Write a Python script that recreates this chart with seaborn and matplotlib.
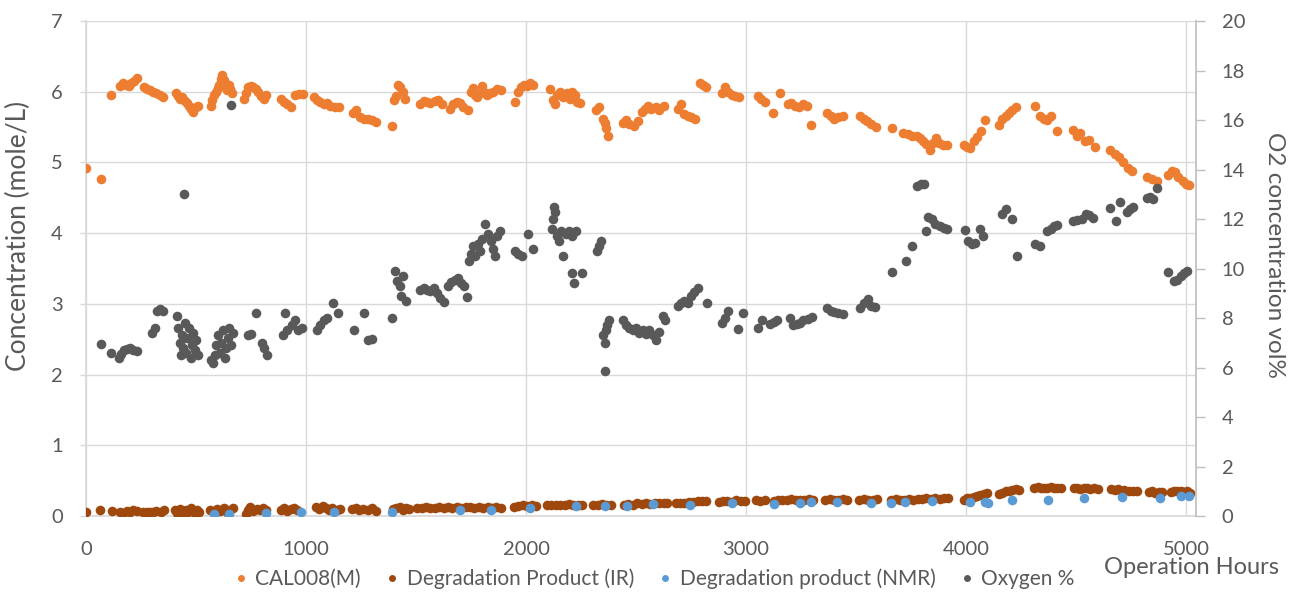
import matplotlib
matplotlib.use("Agg")
import matplotlib.pyplot as plt
import seaborn as sns
import pandas as pd
from matplotlib.lines import Line2D

# ---- CAL008 concentration (mole/L) vs operation hours ----
cal_hours = [0, 68, 114, 155, 168, 180, 195, 205, 218, 232, 262, 276, 290, 305, 320, 335, 350,
             408, 418, 428, 438, 448, 458, 468, 478, 488, 498, 508,
             566, 574, 582, 590, 598, 606, 614, 620, 626, 632, 640, 648, 656, 664,
             720, 728, 736, 748, 760, 772, 784, 796, 808, 820,
             885, 900, 915, 930, 952, 970, 985,
             1035, 1050, 1065, 1080, 1095, 1110, 1130, 1150,
             1212, 1225, 1245, 1262, 1280, 1300, 1318,
             1390, 1400, 1408, 1418, 1428, 1440, 1450,
             1518, 1535, 1550, 1565, 1585, 1600, 1620,
             1655, 1670, 1685, 1700, 1715, 1735,
             1748, 1758, 1768, 1778, 1790, 1800, 1810, 1822, 1835, 1850, 1870, 1885,
             1950, 1962, 1975, 1990, 2005, 2020, 2032,
             2110, 2122, 2130, 2140, 2155, 2170, 2185, 2198, 2210, 2222, 2232, 2245,
             2320, 2330, 2350, 2358, 2365, 2372,
             2440, 2455, 2470, 2490, 2510, 2525, 2540, 2555, 2570, 2590, 2605, 2625,
             2690, 2705, 2720, 2735, 2750, 2770, 2790, 2805, 2820,
             2890, 2905, 2920, 2935, 2950, 2970,
             3055, 3070, 3085, 3123, 3155, 3190, 3205, 3222, 3240, 3260, 3278, 3295,
             3368, 3385, 3400, 3420, 3440,
             3520, 3535, 3550, 3570, 3590, 3664,
             3715, 3735, 3755, 3775, 3790, 3805, 3820, 3835, 3850, 3862, 3875, 3895, 3915,
             3990, 4003, 4018, 4035, 4050, 4068, 4086,
             4150, 4165, 4180, 4195, 4210, 4225,
             4314, 4338, 4352, 4368, 4385, 4413,
             4488, 4505, 4520, 4540, 4560, 4585,
             4655, 4675, 4695, 4715, 4735, 4755,
             4823, 4845, 4870, 4918, 4935, 4950, 4965, 4985, 5000, 5015]
cal_values = [4.92, 4.77, 5.96, 6.08, 6.12, 6.10, 6.08, 6.13, 6.15, 6.20, 6.06, 6.04, 6.02, 6.00, 5.98, 5.95, 5.92,
              5.98, 5.94, 5.90, 5.92, 5.87, 5.84, 5.80, 5.75, 5.71, 5.78, 5.80,
              5.80, 5.88, 5.95, 6.00, 6.05, 6.10, 6.18, 6.24, 6.16, 6.08, 6.02, 6.10, 6.04, 5.98,
              5.90, 5.98, 6.06, 6.08, 6.07, 6.04, 6.00, 5.94, 5.90, 5.95,
              5.90, 5.86, 5.82, 5.79, 5.96, 5.97, 5.97,
              5.92, 5.88, 5.85, 5.82, 5.84, 5.80, 5.78, 5.78,
              5.70, 5.74, 5.64, 5.61, 5.62, 5.60, 5.57,
              5.52, 5.88, 5.94, 6.10, 6.06, 6.00, 5.90,
              5.82, 5.87, 5.86, 5.84, 5.87, 5.88, 5.82,
              5.76, 5.82, 5.86, 5.84, 5.78, 5.74,
              5.99, 6.05, 5.95, 5.92, 5.98, 6.08, 6.00, 5.95, 5.98, 6.00, 6.04, 6.02,
              5.86, 6.00, 6.06, 6.10, 6.08, 6.13, 6.10,
              6.04, 5.88, 5.82, 5.95, 6.00, 5.92, 5.98, 5.90, 6.00, 5.95, 5.86, 5.84,
              5.74, 5.78, 5.62, 5.56, 5.48, 5.38,
              5.56, 5.60, 5.55, 5.52, 5.58, 5.72, 5.76, 5.80, 5.76, 5.78, 5.74, 5.80,
              5.76, 5.82, 5.68, 5.66, 5.64, 5.62, 6.12, 6.10, 6.06,
              5.98, 6.06, 6.00, 5.96, 5.94, 5.92,
              5.94, 5.90, 5.86, 5.70, 5.98, 5.82, 5.84, 5.80, 5.78, 5.82, 5.80, 5.53,
              5.70, 5.66, 5.62, 5.64, 5.66,
              5.66, 5.62, 5.58, 5.54, 5.50, 5.48,
              5.42, 5.40, 5.38, 5.37, 5.34, 5.30, 5.26, 5.18, 5.28, 5.34, 5.28, 5.25, 5.24,
              5.24, 5.22, 5.20, 5.30, 5.36, 5.44, 5.60,
              5.53, 5.62, 5.66, 5.70, 5.74, 5.78,
              5.80, 5.66, 5.62, 5.60, 5.66, 5.44,
              5.46, 5.38, 5.42, 5.30, 5.32, 5.22,
              5.18, 5.12, 5.08, 5.00, 4.92, 4.88,
              4.80, 4.77, 4.74, 4.82, 4.88, 4.86, 4.80, 4.74, 4.70, 4.68]

# ---- Degradation product measured by IR (mole/L) ----
ir_hours = [0, 64, 118, 155, 170, 185, 200, 215, 230, 260, 275, 290, 305, 320, 340, 355,
            405, 415, 425, 435, 445, 455, 465, 475, 485, 495, 505, 515,
            565, 580, 595, 610, 625, 640, 655, 668,
            725, 735, 745, 760, 775, 790, 805, 820,
            885, 900, 915, 930, 945, 960,
            1045, 1060, 1075, 1090, 1105, 1120, 1140, 1155,
            1210, 1225, 1240, 1260, 1280, 1300, 1320,
            1395, 1410, 1425, 1440, 1455, 1470,
            1505, 1525, 1545, 1565, 1585, 1605, 1625, 1645, 1665, 1685, 1705, 1725, 1745,
            1765, 1785, 1805, 1825, 1845, 1865, 1885,
            1945, 1965, 1985, 2005, 2025, 2045,
            2095, 2115, 2135, 2155, 2175, 2195, 2215, 2235, 2255,
            2305, 2325, 2345, 2365, 2385,
            2445, 2465, 2485, 2505, 2525, 2545, 2565, 2585, 2605, 2625, 2640,
            2680, 2700, 2720, 2740, 2760, 2780, 2800, 2820,
            2875, 2895, 2915, 2935, 2955, 2975, 2995,
            3045, 3065, 3085, 3125, 3145, 3165, 3185, 3205, 3225, 3245, 3265, 3285, 3305,
            3360, 3380, 3400, 3420, 3440, 3460,
            3515, 3535, 3555, 3575, 3595,
            3660, 3680, 3700, 3720, 3740, 3760, 3780, 3800, 3820, 3840, 3860, 3880, 3900, 3920,
            3990, 4005, 4020, 4035, 4050, 4065, 4080, 4095,
            4150, 4165, 4180, 4195, 4210, 4225, 4240,
            4310, 4325, 4340, 4355, 4370, 4385, 4400, 4415, 4430,
            4490, 4505, 4520, 4535, 4550, 4565, 4580, 4600,
            4660, 4675, 4690, 4705, 4720, 4740, 4760, 4775,
            4830, 4845, 4860, 4875, 4890,
            4930, 4945, 4960, 4975, 4990, 5005, 5020]
ir_values = [0.05, 0.08, 0.07, 0.05, 0.04, 0.07, 0.06, 0.08, 0.07, 0.06, 0.05, 0.05, 0.06, 0.07, 0.06, 0.08,
             0.08, 0.04, 0.10, 0.06, 0.03, 0.09, 0.05, 0.11, 0.07, 0.04, 0.09, 0.06,
             0.09, 0.05, 0.10, 0.07, 0.11, 0.06, 0.09, 0.12,
             0.03, 0.09, 0.13, 0.07, 0.10, 0.08, 0.12, 0.09,
             0.08, 0.11, 0.07, 0.10, 0.12, 0.09,
             0.13, 0.10, 0.14, 0.11, 0.09, 0.12, 0.08, 0.10,
             0.10, 0.11, 0.09, 0.10, 0.08, 0.11, 0.07,
             0.10, 0.12, 0.13, 0.09, 0.12, 0.10,
             0.12, 0.12, 0.13, 0.12, 0.12, 0.13, 0.12, 0.13, 0.12, 0.13, 0.12, 0.13, 0.13,
             0.12, 0.13, 0.12, 0.13, 0.12, 0.13, 0.12,
             0.13, 0.14, 0.15, 0.14, 0.15, 0.14,
             0.15, 0.16, 0.15, 0.16, 0.15, 0.17, 0.16, 0.15, 0.16,
             0.16, 0.15, 0.17, 0.16, 0.15,
             0.16, 0.17, 0.16, 0.18, 0.17, 0.18, 0.17, 0.18, 0.19, 0.18, 0.19,
             0.18, 0.19, 0.18, 0.20, 0.20, 0.21, 0.21, 0.21,
             0.20, 0.21, 0.21, 0.20, 0.22, 0.21, 0.21,
             0.22, 0.21, 0.22, 0.21, 0.23, 0.22, 0.23, 0.24, 0.23, 0.22, 0.23, 0.24, 0.23,
             0.23, 0.24, 0.22, 0.23, 0.24, 0.23,
             0.23, 0.24, 0.22, 0.23, 0.24,
             0.23, 0.24, 0.22, 0.23, 0.24, 0.23, 0.24, 0.24, 0.25, 0.24, 0.25, 0.24, 0.25, 0.26,
             0.23, 0.25, 0.26, 0.27, 0.28, 0.29, 0.31, 0.32,
             0.31, 0.33, 0.35, 0.36, 0.37, 0.38, 0.37,
             0.40, 0.41, 0.40, 0.39, 0.40, 0.41, 0.40, 0.39, 0.40,
             0.39, 0.40, 0.38, 0.39, 0.40, 0.38, 0.39, 0.38,
             0.38, 0.37, 0.38, 0.36, 0.37, 0.36, 0.35, 0.36,
             0.34, 0.35, 0.33, 0.34, 0.34,
             0.34, 0.35, 0.36, 0.35, 0.34, 0.35, 0.33]

# ---- Degradation product measured by NMR (mole/L) ----
nmr_hours = [582, 650, 818, 977, 1127, 1391, 1700, 1841, 2018, 2227, 2359, 2459, 2577, 2745,
             2936, 3127, 3245, 3295, 3414, 3568, 3659, 3723, 3845, 4018, 4086, 4100, 4209,
             4373, 4536, 4709, 4882, 4977, 5014]
nmr_values = [0.03, 0.03, 0.04, 0.05, 0.06, 0.05, 0.08, 0.08, 0.12, 0.14, 0.14, 0.14, 0.17, 0.16,
              0.19, 0.17, 0.19, 0.20, 0.20, 0.18, 0.18, 0.20, 0.21, 0.20, 0.20, 0.19, 0.23,
              0.23, 0.25, 0.27, 0.25, 0.28, 0.28]

# ---- Oxygen concentration (vol%) ----
o2_hours = [68, 114, 150, 160, 172, 185, 200, 215, 230, 300, 312, 322, 335, 350,
            445, 414, 420, 425, 430, 436, 442, 448, 455, 460, 468, 475, 480, 488, 495, 502, 510,
            566, 575, 585, 592, 600, 608, 615, 622, 630, 638, 645, 652, 660, 659, 668,
            735, 750, 773, 800, 810, 822,
            895, 905, 915, 935, 950, 965, 980,
            1050, 1065, 1080, 1095, 1123, 1145, 1218, 1264, 1282, 1300,
            1391, 1405, 1415, 1428, 1441, 1430, 1455,
            1520, 1535, 1550, 1565, 1580, 1595, 1610, 1625,
            1645, 1660, 1675, 1690, 1705, 1720, 1732,
            1740, 1750, 1760, 1770, 1780, 1790, 1800, 1814, 1825, 1840, 1850, 1859, 1870, 1880,
            1950, 1965, 1980, 2009, 2032,
            2118, 2123, 2125, 2130, 2140, 2150, 2160, 2168, 2180, 2195, 2210, 2225, 2209, 2220, 2255,
            2323, 2332, 2342, 2359, 2352, 2357, 2362, 2368, 2375,
            2441, 2455, 2470, 2485, 2500, 2515, 2530, 2545, 2560, 2575, 2590, 2605, 2623, 2630,
            2691, 2705, 2720, 2735, 2750, 2765, 2780, 2823,
            2891, 2905, 2920, 2964, 2986,
            3055, 3072, 3110, 3125, 3141, 3200, 3214, 3230, 3245, 3260, 3280, 3300,
            3368, 3385, 3400, 3420, 3440, 3518, 3535, 3555, 3570, 3586,
            3664, 3727, 3755, 3778, 3795, 3808, 3818, 3827, 3845, 3860, 3880, 3900, 3914,
            3995, 4010, 4025, 4040, 4064, 4078, 4164, 4180, 4209, 4232,
            4314, 4335, 4368, 4385, 4400, 4414,
            4486, 4505, 4525, 4545, 4560, 4577,
            4655, 4682, 4700, 4732, 4745, 4759, 4823, 4838, 4850, 4868,
            4918, 4945, 4960, 4975, 4990, 5005]
o2_values = [6.95, 6.6, 6.4, 6.55, 6.7, 6.75, 6.8, 6.7, 6.65, 7.4, 7.6, 8.3, 8.35, 8.3,
             13.0, 8.1, 7.6, 7.0, 6.5, 7.3, 6.8, 7.8, 6.6, 7.2, 7.6, 6.4, 6.9, 7.4, 6.7, 7.1, 6.5,
             6.3, 6.2, 6.5, 6.9, 7.3, 6.6, 7.0, 7.5, 6.4, 6.8, 7.2, 7.6, 6.9, 16.6, 7.4,
             7.3, 7.35, 8.2, 7.0, 6.8, 6.5,
             7.3, 8.2, 7.5, 7.7, 7.9, 7.5, 7.6,
             7.5, 7.7, 7.9, 8.0, 8.6, 8.2, 7.5, 8.2, 7.1, 7.15,
             8.0, 9.9, 9.5, 9.3, 9.7, 8.9, 8.7,
             9.15, 9.2, 9.15, 9.1, 9.2, 9.0, 8.8, 8.65,
             9.3, 9.45, 9.55, 9.6, 9.4, 9.3, 8.85,
             10.3, 10.6, 10.9, 10.5, 11.0, 10.7, 11.2, 11.8, 11.4, 11.1, 10.8, 10.5, 11.3, 11.5,
             10.7, 10.6, 10.5, 11.4, 10.8,
             11.6, 12.0, 12.5, 12.3, 11.3, 11.1, 11.5, 10.5, 11.4, 11.5, 11.3, 11.5, 9.8, 9.4, 9.8,
             10.7, 10.9, 11.1, 5.85, 7.3, 7.0, 7.5, 7.7, 7.9,
             7.9, 7.7, 7.6, 7.5, 7.6, 7.4, 7.5, 7.35, 7.5, 7.3, 7.1, 7.45, 8.1, 7.9,
             8.5, 8.6, 8.7, 8.6, 8.9, 9.05, 9.2, 8.6,
             7.8, 8.0, 8.3, 7.55, 8.2,
             7.6, 7.9, 7.75, 7.85, 7.9, 8.0, 7.7, 7.75, 7.8, 7.9, 7.95, 8.05,
             8.4, 8.3, 8.25, 8.2, 8.15, 8.4, 8.6, 8.75, 8.5, 8.45,
             9.85, 10.3, 10.9, 13.35, 13.4, 13.4, 11.5, 12.1, 12.0, 11.8, 11.7, 11.65, 11.6,
             11.55, 11.1, 11.0, 11.05, 11.6, 11.3, 12.2, 12.4, 12.0, 10.5,
             11.0, 10.9, 11.5, 11.6, 11.7, 11.75,
             11.9, 11.95, 12.0, 12.2, 12.15, 12.05,
             12.45, 11.9, 12.7, 12.3, 12.4, 12.5, 12.85, 12.9, 12.8, 13.25,
             9.85, 9.5, 9.55, 9.7, 9.8, 9.9]

labels = ["CAL008(M)", "Degradation Product (IR)", "Degradation product (NMR)", "Oxygen %"]
colors = ["#ED7D31", "#9E480E", "#5B9BD5", "#595959"]

sns.set_theme(style="white")
plt.rcParams["font.family"] = ["Lato", "DejaVu Sans"]
TEXT = "#595959"
GRID = "#D9D9D9"

W, H = 1296, 594
fig = plt.figure(figsize=(W / 100, H / 100), dpi=100)
ax = fig.add_axes([86 / W, 1 - 516 / H, (1196 - 86) / W, (516 - 21) / H])
ax2 = ax.twinx()

cal_df = pd.DataFrame({"hours": cal_hours, "value": cal_values})
ir_df = pd.DataFrame({"hours": ir_hours, "value": ir_values})
nmr_df = pd.DataFrame({"hours": nmr_hours, "value": nmr_values})
o2_df = pd.DataFrame({"hours": o2_hours, "value": o2_values})

msize = 48
sns.scatterplot(data=cal_df, x="hours", y="value", ax=ax, color=colors[0], s=msize, linewidth=0, zorder=3)
sns.scatterplot(data=ir_df, x="hours", y="value", ax=ax, color=colors[1], s=msize, linewidth=0, zorder=3)
sns.scatterplot(data=nmr_df, x="hours", y="value", ax=ax, color=colors[2], s=msize, linewidth=0, zorder=4)
sns.scatterplot(data=o2_df, x="hours", y="value", ax=ax2, color=colors[3], s=msize, linewidth=0, zorder=3)

# primary axis
ax.set_xlim(0, 5045)
ax.set_ylim(0, 7)
ax.set_xticks(range(0, 5001, 1000))
ax.set_yticks(range(0, 8))
ax.set_axisbelow(True)
ax.grid(True, color=GRID, linewidth=1.0)
ax.tick_params(axis="y", which="major", length=4.3, width=1.0, color=GRID, pad=12.5,
               labelsize=14.5, labelcolor=TEXT, left=True)
ax.tick_params(axis="x", which="major", length=0, pad=18, labelsize=14.5, labelcolor=TEXT)
for side in ["top", "right"]:
    ax.spines[side].set_visible(False)
ax.spines["left"].set_color(GRID)
ax.spines["bottom"].set_color(GRID)
ax.set_xlabel("")
ax.set_ylabel("")

# secondary axis (oxygen)
ax2.set_ylim(0, 20)
ax2.set_yticks(range(0, 21, 2))
ax2.tick_params(axis="y", which="major", length=6.5, width=1.0, color="#BFBFBF", pad=12,
                labelsize=14.5, labelcolor=TEXT, right=True)
for side in ["top", "left", "bottom"]:
    ax2.spines[side].set_visible(False)
ax2.spines["right"].set_color("#BFBFBF")
ax2.set_ylabel("")
ax2.grid(False)

fig.text(18 / W, 1 - 236 / H, "Concentration (mole/L)", rotation=90, ha="center", va="center",
         fontsize=19, color=TEXT)
fig.text(1275 / W, 1 - 255 / H, "O2 concentration vol%", rotation=270, ha="center", va="center",
         fontsize=17.5, color=TEXT)
fig.text(1191 / W, 1 - 568 / H, "Operation Hours", ha="center", va="center",
         fontsize=17, color=TEXT)

handles = [Line2D([], [], marker="o", linestyle="none", markersize=5, markerfacecolor=c,
                  markeredgewidth=0) for c in colors]
fig.legend(handles, labels, loc="center", bbox_to_anchor=(653 / W, 1 - 579 / H), ncol=4,
           frameon=False, fontsize=15, labelcolor=TEXT, handletextpad=0.25, columnspacing=1.05,
           handlelength=0.9)

fig.savefig("out.png", dpi=100)
